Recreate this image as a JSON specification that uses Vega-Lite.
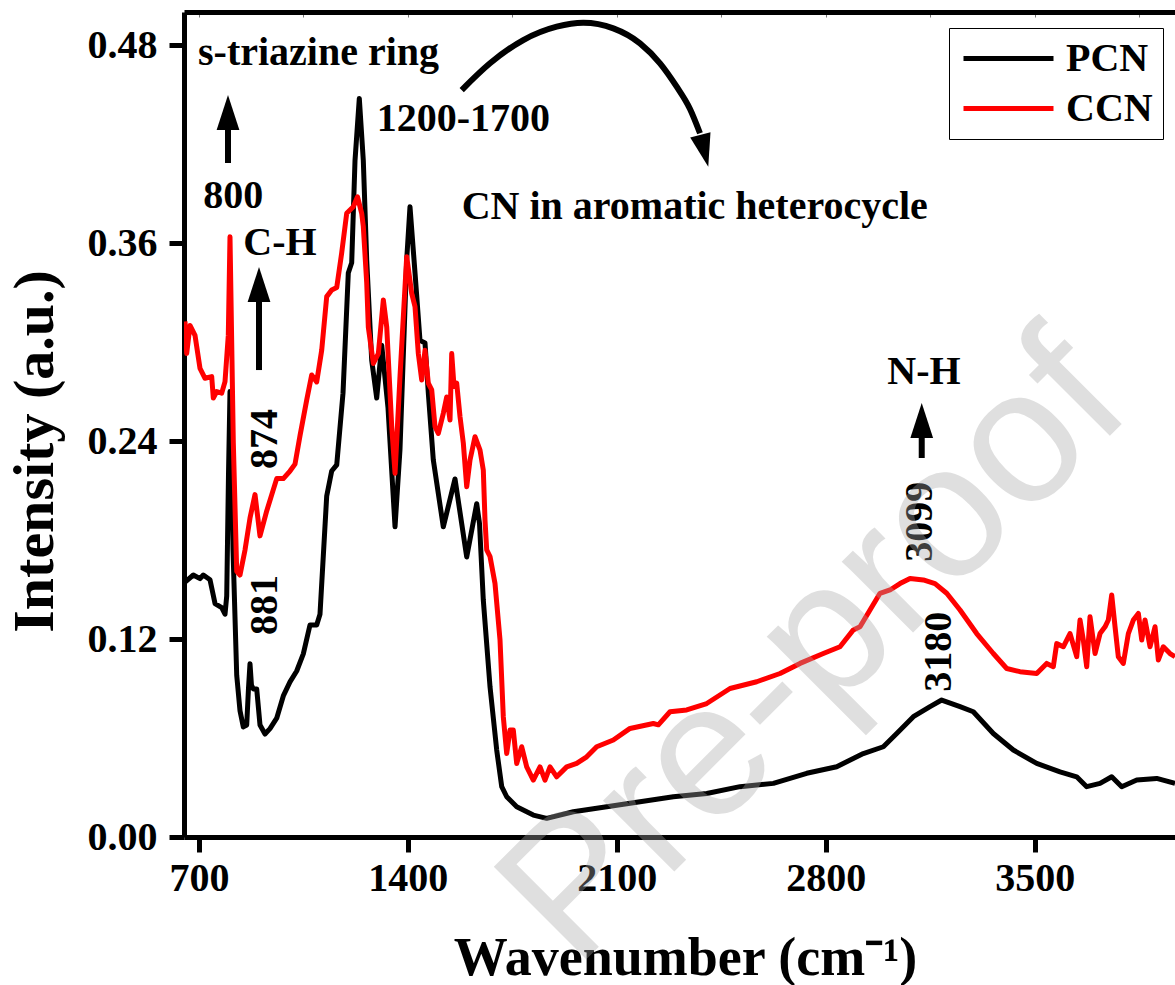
{
  "$schema": "https://vega.github.io/schema/vega-lite/v6.json",
  "width": 991,
  "height": 825,
  "autosize": {"type": "none"},
  "padding": {"left": 184, "top": 12, "right": 0, "bottom": 148},
  "background": "white",
  "config": {
    "view": {"stroke": null},
    "axis": {"grid": false, "labelFont": "Liberation Serif", "labelFontWeight": "bold", "labelColor": "black", "titleFont": "Liberation Serif", "titleFontWeight": "bold", "titleColor": "black", "domainColor": "black", "tickColor": "black"},
    "legend": {"labelFont": "Liberation Serif", "labelFontWeight": "bold"}
  },
  "datasets": {
    "spectra": [
      {"sample": "PCN", "wavenumber": 653.4, "intensity": 0.1545},
      {"sample": "PCN", "wavenumber": 681.2, "intensity": 0.1588},
      {"sample": "PCN", "wavenumber": 703.6, "intensity": 0.1566},
      {"sample": "PCN", "wavenumber": 714.7, "intensity": 0.1588},
      {"sample": "PCN", "wavenumber": 737.1, "intensity": 0.1559},
      {"sample": "PCN", "wavenumber": 747.2, "intensity": 0.1473},
      {"sample": "PCN", "wavenumber": 753.9, "intensity": 0.1415},
      {"sample": "PCN", "wavenumber": 776.3, "intensity": 0.139},
      {"sample": "PCN", "wavenumber": 787.4, "intensity": 0.135},
      {"sample": "PCN", "wavenumber": 793.1, "intensity": 0.146},
      {"sample": "PCN", "wavenumber": 799.1, "intensity": 0.22},
      {"sample": "PCN", "wavenumber": 804.1, "intensity": 0.27},
      {"sample": "PCN", "wavenumber": 809.0, "intensity": 0.235},
      {"sample": "PCN", "wavenumber": 814.2, "intensity": 0.174},
      {"sample": "PCN", "wavenumber": 826.6, "intensity": 0.098},
      {"sample": "PCN", "wavenumber": 837.6, "intensity": 0.0765},
      {"sample": "PCN", "wavenumber": 848.7, "intensity": 0.0667},
      {"sample": "PCN", "wavenumber": 860.1, "intensity": 0.0679},
      {"sample": "PCN", "wavenumber": 866.0, "intensity": 0.09},
      {"sample": "PCN", "wavenumber": 871.1, "intensity": 0.105},
      {"sample": "PCN", "wavenumber": 876.0, "intensity": 0.092},
      {"sample": "PCN", "wavenumber": 882.2, "intensity": 0.0897},
      {"sample": "PCN", "wavenumber": 893.6, "intensity": 0.0897},
      {"sample": "PCN", "wavenumber": 904.6, "intensity": 0.0679},
      {"sample": "PCN", "wavenumber": 921.4, "intensity": 0.0624},
      {"sample": "PCN", "wavenumber": 938.1, "intensity": 0.0657},
      {"sample": "PCN", "wavenumber": 960.6, "intensity": 0.072},
      {"sample": "PCN", "wavenumber": 982.7, "intensity": 0.0855},
      {"sample": "PCN", "wavenumber": 1005.1, "intensity": 0.094},
      {"sample": "PCN", "wavenumber": 1027.6, "intensity": 0.1006},
      {"sample": "PCN", "wavenumber": 1049.7, "intensity": 0.111},
      {"sample": "PCN", "wavenumber": 1072.1, "intensity": 0.1285},
      {"sample": "PCN", "wavenumber": 1094.6, "intensity": 0.1285},
      {"sample": "PCN", "wavenumber": 1105.6, "intensity": 0.135},
      {"sample": "PCN", "wavenumber": 1128.1, "intensity": 0.2067},
      {"sample": "PCN", "wavenumber": 1144.8, "intensity": 0.2218},
      {"sample": "PCN", "wavenumber": 1161.6, "intensity": 0.2255},
      {"sample": "PCN", "wavenumber": 1182.7, "intensity": 0.269},
      {"sample": "PCN", "wavenumber": 1200.4, "intensity": 0.3418},
      {"sample": "PCN", "wavenumber": 1211.8, "intensity": 0.348},
      {"sample": "PCN", "wavenumber": 1222.9, "intensity": 0.41},
      {"sample": "PCN", "wavenumber": 1237.3, "intensity": 0.4476},
      {"sample": "PCN", "wavenumber": 1250.7, "intensity": 0.41},
      {"sample": "PCN", "wavenumber": 1262.1, "intensity": 0.3497},
      {"sample": "PCN", "wavenumber": 1278.8, "intensity": 0.289},
      {"sample": "PCN", "wavenumber": 1295.6, "intensity": 0.266},
      {"sample": "PCN", "wavenumber": 1312.4, "intensity": 0.298},
      {"sample": "PCN", "wavenumber": 1333.5, "intensity": 0.26},
      {"sample": "PCN", "wavenumber": 1357.0, "intensity": 0.188},
      {"sample": "PCN", "wavenumber": 1373.6, "intensity": 0.235},
      {"sample": "PCN", "wavenumber": 1396.1, "intensity": 0.35},
      {"sample": "PCN", "wavenumber": 1407.1, "intensity": 0.382},
      {"sample": "PCN", "wavenumber": 1423.9, "intensity": 0.342},
      {"sample": "PCN", "wavenumber": 1440.6, "intensity": 0.301},
      {"sample": "PCN", "wavenumber": 1457.4, "intensity": 0.2994},
      {"sample": "PCN", "wavenumber": 1468.5, "intensity": 0.269},
      {"sample": "PCN", "wavenumber": 1485.2, "intensity": 0.2285},
      {"sample": "PCN", "wavenumber": 1518.7, "intensity": 0.188},
      {"sample": "PCN", "wavenumber": 1557.9, "intensity": 0.217},
      {"sample": "PCN", "wavenumber": 1597.1, "intensity": 0.1697},
      {"sample": "PCN", "wavenumber": 1630.6, "intensity": 0.202},
      {"sample": "PCN", "wavenumber": 1640.0, "intensity": 0.19},
      {"sample": "PCN", "wavenumber": 1652.7, "intensity": 0.1436},
      {"sample": "PCN", "wavenumber": 1675.2, "intensity": 0.091},
      {"sample": "PCN", "wavenumber": 1697.6, "intensity": 0.0527},
      {"sample": "PCN", "wavenumber": 1714.4, "intensity": 0.0305},
      {"sample": "PCN", "wavenumber": 1731.1, "intensity": 0.0244},
      {"sample": "PCN", "wavenumber": 1764.6, "intensity": 0.0183},
      {"sample": "PCN", "wavenumber": 1820.2, "intensity": 0.0133},
      {"sample": "PCN", "wavenumber": 1865.1, "intensity": 0.0113},
      {"sample": "PCN", "wavenumber": 1954.3, "intensity": 0.0153},
      {"sample": "PCN", "wavenumber": 2066.2, "intensity": 0.0183},
      {"sample": "PCN", "wavenumber": 2177.7, "intensity": 0.0214},
      {"sample": "PCN", "wavenumber": 2289.3, "intensity": 0.0244},
      {"sample": "PCN", "wavenumber": 2401.2, "intensity": 0.0264},
      {"sample": "PCN", "wavenumber": 2512.7, "intensity": 0.0305},
      {"sample": "PCN", "wavenumber": 2624.4, "intensity": 0.0325},
      {"sample": "PCN", "wavenumber": 2736.2, "intensity": 0.0386},
      {"sample": "PCN", "wavenumber": 2836.7, "intensity": 0.0426},
      {"sample": "PCN", "wavenumber": 2870.2, "intensity": 0.0456},
      {"sample": "PCN", "wavenumber": 2925.8, "intensity": 0.0506},
      {"sample": "PCN", "wavenumber": 2992.9, "intensity": 0.0547},
      {"sample": "PCN", "wavenumber": 3037.7, "intensity": 0.0627},
      {"sample": "PCN", "wavenumber": 3093.4, "intensity": 0.0729},
      {"sample": "PCN", "wavenumber": 3149.3, "intensity": 0.079},
      {"sample": "PCN", "wavenumber": 3188.4, "intensity": 0.083},
      {"sample": "PCN", "wavenumber": 3249.8, "intensity": 0.079},
      {"sample": "PCN", "wavenumber": 3294.3, "intensity": 0.0759},
      {"sample": "PCN", "wavenumber": 3361.3, "intensity": 0.0627},
      {"sample": "PCN", "wavenumber": 3428.4, "intensity": 0.0527},
      {"sample": "PCN", "wavenumber": 3506.7, "intensity": 0.0446},
      {"sample": "PCN", "wavenumber": 3584.8, "intensity": 0.0395},
      {"sample": "PCN", "wavenumber": 3640.7, "intensity": 0.0365},
      {"sample": "PCN", "wavenumber": 3674.2, "intensity": 0.0305},
      {"sample": "PCN", "wavenumber": 3718.8, "intensity": 0.0325},
      {"sample": "PCN", "wavenumber": 3758.0, "intensity": 0.0365},
      {"sample": "PCN", "wavenumber": 3791.5, "intensity": 0.0305},
      {"sample": "PCN", "wavenumber": 3841.8, "intensity": 0.0345},
      {"sample": "PCN", "wavenumber": 3908.8, "intensity": 0.0355},
      {"sample": "PCN", "wavenumber": 3970.0, "intensity": 0.0325},
      {"sample": "CCN", "wavenumber": 653.4, "intensity": 0.3125},
      {"sample": "CCN", "wavenumber": 659.0, "intensity": 0.293},
      {"sample": "CCN", "wavenumber": 670.1, "intensity": 0.31},
      {"sample": "CCN", "wavenumber": 686.9, "intensity": 0.304},
      {"sample": "CCN", "wavenumber": 703.6, "intensity": 0.284},
      {"sample": "CCN", "wavenumber": 720.4, "intensity": 0.278},
      {"sample": "CCN", "wavenumber": 742.8, "intensity": 0.279},
      {"sample": "CCN", "wavenumber": 748.2, "intensity": 0.266},
      {"sample": "CCN", "wavenumber": 759.6, "intensity": 0.27},
      {"sample": "CCN", "wavenumber": 776.3, "intensity": 0.269},
      {"sample": "CCN", "wavenumber": 787.4, "intensity": 0.276},
      {"sample": "CCN", "wavenumber": 798.4, "intensity": 0.304},
      {"sample": "CCN", "wavenumber": 804.1, "intensity": 0.3638},
      {"sample": "CCN", "wavenumber": 815.2, "intensity": 0.239},
      {"sample": "CCN", "wavenumber": 826.6, "intensity": 0.161},
      {"sample": "CCN", "wavenumber": 837.6, "intensity": 0.1588},
      {"sample": "CCN", "wavenumber": 854.4, "intensity": 0.174},
      {"sample": "CCN", "wavenumber": 871.1, "intensity": 0.1933},
      {"sample": "CCN", "wavenumber": 887.9, "intensity": 0.2075},
      {"sample": "CCN", "wavenumber": 904.6, "intensity": 0.1825},
      {"sample": "CCN", "wavenumber": 927.1, "intensity": 0.1976},
      {"sample": "CCN", "wavenumber": 960.6, "intensity": 0.2172},
      {"sample": "CCN", "wavenumber": 982.7, "intensity": 0.2172},
      {"sample": "CCN", "wavenumber": 1005.1, "intensity": 0.2218},
      {"sample": "CCN", "wavenumber": 1021.9, "intensity": 0.226},
      {"sample": "CCN", "wavenumber": 1038.6, "intensity": 0.2432},
      {"sample": "CCN", "wavenumber": 1061.1, "intensity": 0.2648},
      {"sample": "CCN", "wavenumber": 1077.8, "intensity": 0.28},
      {"sample": "CCN", "wavenumber": 1094.6, "intensity": 0.2758},
      {"sample": "CCN", "wavenumber": 1111.3, "intensity": 0.295},
      {"sample": "CCN", "wavenumber": 1128.1, "intensity": 0.3275},
      {"sample": "CCN", "wavenumber": 1144.8, "intensity": 0.3315},
      {"sample": "CCN", "wavenumber": 1161.6, "intensity": 0.333},
      {"sample": "CCN", "wavenumber": 1178.3, "intensity": 0.354},
      {"sample": "CCN", "wavenumber": 1195.1, "intensity": 0.378},
      {"sample": "CCN", "wavenumber": 1217.2, "intensity": 0.382},
      {"sample": "CCN", "wavenumber": 1231.3, "intensity": 0.388},
      {"sample": "CCN", "wavenumber": 1245.3, "intensity": 0.378},
      {"sample": "CCN", "wavenumber": 1250.7, "intensity": 0.37},
      {"sample": "CCN", "wavenumber": 1262.1, "intensity": 0.336},
      {"sample": "CCN", "wavenumber": 1267.5, "intensity": 0.309},
      {"sample": "CCN", "wavenumber": 1284.3, "intensity": 0.287},
      {"sample": "CCN", "wavenumber": 1301.1, "intensity": 0.293},
      {"sample": "CCN", "wavenumber": 1317.8, "intensity": 0.3255},
      {"sample": "CCN", "wavenumber": 1329.2, "intensity": 0.309},
      {"sample": "CCN", "wavenumber": 1345.9, "intensity": 0.2487},
      {"sample": "CCN", "wavenumber": 1357.0, "intensity": 0.2204},
      {"sample": "CCN", "wavenumber": 1373.6, "intensity": 0.279},
      {"sample": "CCN", "wavenumber": 1396.1, "intensity": 0.3517},
      {"sample": "CCN", "wavenumber": 1412.8, "intensity": 0.3295},
      {"sample": "CCN", "wavenumber": 1423.9, "intensity": 0.3214},
      {"sample": "CCN", "wavenumber": 1435.0, "intensity": 0.293},
      {"sample": "CCN", "wavenumber": 1446.4, "intensity": 0.277},
      {"sample": "CCN", "wavenumber": 1457.4, "intensity": 0.295},
      {"sample": "CCN", "wavenumber": 1468.5, "intensity": 0.275},
      {"sample": "CCN", "wavenumber": 1479.9, "intensity": 0.271},
      {"sample": "CCN", "wavenumber": 1490.9, "intensity": 0.2487},
      {"sample": "CCN", "wavenumber": 1502.0, "intensity": 0.2446},
      {"sample": "CCN", "wavenumber": 1518.7, "intensity": 0.2568},
      {"sample": "CCN", "wavenumber": 1530.1, "intensity": 0.2667},
      {"sample": "CCN", "wavenumber": 1541.2, "intensity": 0.2527},
      {"sample": "CCN", "wavenumber": 1546.9, "intensity": 0.293},
      {"sample": "CCN", "wavenumber": 1554.6, "intensity": 0.273},
      {"sample": "CCN", "wavenumber": 1563.6, "intensity": 0.275},
      {"sample": "CCN", "wavenumber": 1574.7, "intensity": 0.2547},
      {"sample": "CCN", "wavenumber": 1585.8, "intensity": 0.2386},
      {"sample": "CCN", "wavenumber": 1597.1, "intensity": 0.2123},
      {"sample": "CCN", "wavenumber": 1608.2, "intensity": 0.2285},
      {"sample": "CCN", "wavenumber": 1624.9, "intensity": 0.2426},
      {"sample": "CCN", "wavenumber": 1641.7, "intensity": 0.2345},
      {"sample": "CCN", "wavenumber": 1652.7, "intensity": 0.2224},
      {"sample": "CCN", "wavenumber": 1658.4, "intensity": 0.192},
      {"sample": "CCN", "wavenumber": 1664.1, "intensity": 0.174},
      {"sample": "CCN", "wavenumber": 1675.2, "intensity": 0.17},
      {"sample": "CCN", "wavenumber": 1691.9, "intensity": 0.1536},
      {"sample": "CCN", "wavenumber": 1708.7, "intensity": 0.1194},
      {"sample": "CCN", "wavenumber": 1719.7, "intensity": 0.0729},
      {"sample": "CCN", "wavenumber": 1731.1, "intensity": 0.0506},
      {"sample": "CCN", "wavenumber": 1742.2, "intensity": 0.0648},
      {"sample": "CCN", "wavenumber": 1753.2, "intensity": 0.0648},
      {"sample": "CCN", "wavenumber": 1764.6, "intensity": 0.0446},
      {"sample": "CCN", "wavenumber": 1781.4, "intensity": 0.0547},
      {"sample": "CCN", "wavenumber": 1798.1, "intensity": 0.0425},
      {"sample": "CCN", "wavenumber": 1820.2, "intensity": 0.0345},
      {"sample": "CCN", "wavenumber": 1842.7, "intensity": 0.0425},
      {"sample": "CCN", "wavenumber": 1859.4, "intensity": 0.0345},
      {"sample": "CCN", "wavenumber": 1876.2, "intensity": 0.0425},
      {"sample": "CCN", "wavenumber": 1898.6, "intensity": 0.0365},
      {"sample": "CCN", "wavenumber": 1932.1, "intensity": 0.0425},
      {"sample": "CCN", "wavenumber": 1965.6, "intensity": 0.0446},
      {"sample": "CCN", "wavenumber": 1999.1, "intensity": 0.0486},
      {"sample": "CCN", "wavenumber": 2032.6, "intensity": 0.0547},
      {"sample": "CCN", "wavenumber": 2088.3, "intensity": 0.0588},
      {"sample": "CCN", "wavenumber": 2144.2, "intensity": 0.0658},
      {"sample": "CCN", "wavenumber": 2222.3, "intensity": 0.0688},
      {"sample": "CCN", "wavenumber": 2239.1, "intensity": 0.068},
      {"sample": "CCN", "wavenumber": 2278.2, "intensity": 0.0759},
      {"sample": "CCN", "wavenumber": 2334.2, "intensity": 0.077},
      {"sample": "CCN", "wavenumber": 2401.2, "intensity": 0.0809},
      {"sample": "CCN", "wavenumber": 2479.2, "intensity": 0.09},
      {"sample": "CCN", "wavenumber": 2568.7, "intensity": 0.0941},
      {"sample": "CCN", "wavenumber": 2646.7, "intensity": 0.0991},
      {"sample": "CCN", "wavenumber": 2713.7, "intensity": 0.1052},
      {"sample": "CCN", "wavenumber": 2791.8, "intensity": 0.1112},
      {"sample": "CCN", "wavenumber": 2847.7, "intensity": 0.1153},
      {"sample": "CCN", "wavenumber": 2892.3, "intensity": 0.1255},
      {"sample": "CCN", "wavenumber": 2914.7, "intensity": 0.1274},
      {"sample": "CCN", "wavenumber": 2948.2, "intensity": 0.1376},
      {"sample": "CCN", "wavenumber": 2981.7, "intensity": 0.1477},
      {"sample": "CCN", "wavenumber": 3015.2, "intensity": 0.1497},
      {"sample": "CCN", "wavenumber": 3048.7, "intensity": 0.1536},
      {"sample": "CCN", "wavenumber": 3082.3, "intensity": 0.1567},
      {"sample": "CCN", "wavenumber": 3126.8, "intensity": 0.1558},
      {"sample": "CCN", "wavenumber": 3166.0, "intensity": 0.1536},
      {"sample": "CCN", "wavenumber": 3205.2, "intensity": 0.1477},
      {"sample": "CCN", "wavenumber": 3249.8, "intensity": 0.1376},
      {"sample": "CCN", "wavenumber": 3305.6, "intensity": 0.1233},
      {"sample": "CCN", "wavenumber": 3361.3, "intensity": 0.1112},
      {"sample": "CCN", "wavenumber": 3406.2, "intensity": 0.1021},
      {"sample": "CCN", "wavenumber": 3450.8, "intensity": 0.1002},
      {"sample": "CCN", "wavenumber": 3506.7, "intensity": 0.0991},
      {"sample": "CCN", "wavenumber": 3540.2, "intensity": 0.1052},
      {"sample": "CCN", "wavenumber": 3562.3, "intensity": 0.1032},
      {"sample": "CCN", "wavenumber": 3573.7, "intensity": 0.1172},
      {"sample": "CCN", "wavenumber": 3595.8, "intensity": 0.1153},
      {"sample": "CCN", "wavenumber": 3618.2, "intensity": 0.1233},
      {"sample": "CCN", "wavenumber": 3640.7, "intensity": 0.1093},
      {"sample": "CCN", "wavenumber": 3651.8, "intensity": 0.1315},
      {"sample": "CCN", "wavenumber": 3662.8, "intensity": 0.1194},
      {"sample": "CCN", "wavenumber": 3674.2, "intensity": 0.1032},
      {"sample": "CCN", "wavenumber": 3685.3, "intensity": 0.1335},
      {"sample": "CCN", "wavenumber": 3702.1, "intensity": 0.1112},
      {"sample": "CCN", "wavenumber": 3718.8, "intensity": 0.1233},
      {"sample": "CCN", "wavenumber": 3735.6, "intensity": 0.1274},
      {"sample": "CCN", "wavenumber": 3746.6, "intensity": 0.1315},
      {"sample": "CCN", "wavenumber": 3758.0, "intensity": 0.1467},
      {"sample": "CCN", "wavenumber": 3769.1, "intensity": 0.1274},
      {"sample": "CCN", "wavenumber": 3780.1, "intensity": 0.1093},
      {"sample": "CCN", "wavenumber": 3796.9, "intensity": 0.1052},
      {"sample": "CCN", "wavenumber": 3813.7, "intensity": 0.1233},
      {"sample": "CCN", "wavenumber": 3830.4, "intensity": 0.1315},
      {"sample": "CCN", "wavenumber": 3847.2, "intensity": 0.1355},
      {"sample": "CCN", "wavenumber": 3858.6, "intensity": 0.1194},
      {"sample": "CCN", "wavenumber": 3869.6, "intensity": 0.1315},
      {"sample": "CCN", "wavenumber": 3886.4, "intensity": 0.1153},
      {"sample": "CCN", "wavenumber": 3903.1, "intensity": 0.1274},
      {"sample": "CCN", "wavenumber": 3914.2, "intensity": 0.1073},
      {"sample": "CCN", "wavenumber": 3930.9, "intensity": 0.1153},
      {"sample": "CCN", "wavenumber": 3953.3, "intensity": 0.1112},
      {"sample": "CCN", "wavenumber": 3970.0, "intensity": 0.1093}
    ],
    "labelsLeft": [
      {"wavenumber": 696.9, "intensity": 0.4679, "label": "s-triazine ring"},
      {"wavenumber": 848.7, "intensity": 0.3527, "label": "C-H"},
      {"wavenumber": 1295.6, "intensity": 0.428, "label": "1200-1700"},
      {"wavenumber": 1580.3, "intensity": 0.3743, "label": "CN in aromatic heterocycle"}
    ],
    "labelsCenter": [
      {"wavenumber": 815.2, "intensity": 0.381, "label": "800"},
      {"wavenumber": 3129.0, "intensity": 0.2745, "label": "N-H"}
    ],
    "labelsRot": [
      {"wavenumber": 921.4, "intensity": 0.2412, "label": "874"},
      {"wavenumber": 921.4, "intensity": 0.1406, "label": "881"},
      {"wavenumber": 3115.7, "intensity": 0.1911, "label": "3099"},
      {"wavenumber": 3180.1, "intensity": 0.1123, "label": "3180"}
    ],
    "shafts": [
      {"wavenumber": 797.4, "from": 0.4085, "to": 0.4315},
      {"wavenumber": 901.3, "from": 0.283, "to": 0.3285},
      {"wavenumber": 3121.5, "from": 0.2297, "to": 0.2467}
    ],
    "heads": [
      {"wavenumber": 797.4, "intensity": 0.4391},
      {"wavenumber": 901.3, "intensity": 0.3348},
      {"wavenumber": 3121.5, "intensity": 0.2524}
    ],
    "arc": [
      {"wavenumber": 1580.4, "intensity": 0.4527},
      {"wavenumber": 1675.2, "intensity": 0.4689},
      {"wavenumber": 1786.7, "intensity": 0.483},
      {"wavenumber": 1898.6, "intensity": 0.4911},
      {"wavenumber": 1987.7, "intensity": 0.4935},
      {"wavenumber": 2088.3, "intensity": 0.4901},
      {"wavenumber": 2177.7, "intensity": 0.481},
      {"wavenumber": 2244.7, "intensity": 0.4689},
      {"wavenumber": 2300.6, "intensity": 0.4547},
      {"wavenumber": 2345.2, "intensity": 0.4412},
      {"wavenumber": 2378.7, "intensity": 0.4265}
    ],
    "arcHead": [
      {"wavenumber": 2393.1, "intensity": 0.4159}
    ],
    "watermark": [
      {"wavenumber": 2764, "intensity": 0.1133, "label": "Pre-proof"}
    ]
  },
  "resolve": {"axis": {"x": "independent", "y": "independent"}},
  "layer": [
    {
      "data": {"name": "spectra"},
      "transform": [{"filter": "datum.sample === 'PCN'"}],
      "mark": {"type": "line", "strokeWidth": 5, "clip": true, "strokeJoin": "round"},
      "encoding": {
        "x": {"field": "wavenumber", "type": "quantitative", "scale": {"domain": [650, 3970], "nice": false, "zero": false},
          "axis": {"orient": "bottom", "values": [700, 1400, 2100, 2800, 3500], "format": "d", "labelFontSize": 40, "labelPadding": 6, "tickSize": 15, "tickWidth": 5, "domainWidth": 5, "title": "Wavenumber (cm⁻¹)", "titleFontSize": 54, "titleX": 501, "titleY": 137, "titleBaseline": "alphabetic", "titleAnchor": "middle"}},
        "y": {"field": "intensity", "type": "quantitative", "scale": {"domain": [0, 0.5], "nice": false},
          "axis": {"values": [0, 0.12, 0.24, 0.36, 0.48], "format": ".2f", "labelFontSize": 40, "labelPadding": 12, "tickSize": 15, "tickWidth": 5, "domainWidth": 5, "title": "Intensity (a.u.)", "titleFontSize": 58, "titleAngle": -90, "titleX": -132, "titleY": 439, "titleBaseline": "alphabetic", "titleAlign": "center"}},
        "color": {"field": "sample", "type": "nominal", "scale": {"domain": ["PCN", "CCN"], "range": ["#000000", "#ff0000"]},
          "legend": {"title": null, "orient": "none", "legendX": 765, "legendY": 16, "padding": 10, "strokeColor": "#000000", "fillColor": "white", "symbolType": "M-2.5,0L2.5,0", "symbolSize": 1296, "symbolStrokeWidth": 5, "symbolOffset": 29, "labelFontSize": 40, "labelColor": "black", "labelOffset": 37, "rowPadding": 9, "labelLimit": 300}}
      }
    },
    {
      "data": {"name": "spectra"},
      "transform": [{"filter": "datum.sample === 'CCN'"}],
      "mark": {"type": "line", "strokeWidth": 5, "clip": true, "strokeJoin": "round"},
      "encoding": {
        "x": {"field": "wavenumber", "type": "quantitative",
          "axis": {"orient": "top", "values": [700, 1050, 1400, 1750, 2100, 2450, 2800, 3150, 3500, 3850], "labels": false, "tickSize": -5, "tickWidth": 1, "tickColor": "#777777", "domainWidth": 5, "title": null}},
        "y": {"field": "intensity", "type": "quantitative", "axis": null},
        "color": {"field": "sample", "type": "nominal"}
      }
    },
    {
      "data": {"name": "arc"},
      "mark": {"type": "line", "color": "black", "strokeWidth": 6, "interpolate": "monotone"},
      "encoding": {
        "x": {"field": "wavenumber", "type": "quantitative", "axis": null},
        "y": {"field": "intensity", "type": "quantitative", "axis": null}
      }
    },
    {
      "data": {"name": "arcHead"},
      "mark": {"type": "point", "shape": "M0,1L0.64,-1L-0.64,-1Z", "size": 1070, "filled": true, "color": "black", "opacity": 1, "angle": -14},
      "encoding": {
        "x": {"field": "wavenumber", "type": "quantitative", "axis": null},
        "y": {"field": "intensity", "type": "quantitative", "axis": null}
      }
    },
    {
      "data": {"name": "shafts"},
      "mark": {"type": "rule", "color": "black", "strokeWidth": 6},
      "encoding": {
        "x": {"field": "wavenumber", "type": "quantitative", "axis": null},
        "y": {"field": "from", "type": "quantitative", "axis": null},
        "y2": {"field": "to"}
      }
    },
    {
      "data": {"name": "heads"},
      "mark": {"type": "point", "shape": "M0,-1L0.65,1L-0.65,1Z", "size": 1225, "filled": true, "color": "black", "opacity": 1},
      "encoding": {
        "x": {"field": "wavenumber", "type": "quantitative", "axis": null},
        "y": {"field": "intensity", "type": "quantitative", "axis": null}
      }
    },
    {
      "data": {"name": "labelsLeft"},
      "mark": {"type": "text", "align": "left", "baseline": "alphabetic", "font": "Liberation Serif", "fontWeight": "bold", "fontSize": 40, "color": "black"},
      "encoding": {
        "x": {"field": "wavenumber", "type": "quantitative", "axis": null},
        "y": {"field": "intensity", "type": "quantitative", "axis": null},
        "text": {"field": "label"}
      }
    },
    {
      "data": {"name": "labelsCenter"},
      "mark": {"type": "text", "align": "center", "baseline": "alphabetic", "font": "Liberation Serif", "fontWeight": "bold", "fontSize": 40, "color": "black"},
      "encoding": {
        "x": {"field": "wavenumber", "type": "quantitative", "axis": null},
        "y": {"field": "intensity", "type": "quantitative", "axis": null},
        "text": {"field": "label"}
      }
    },
    {
      "data": {"name": "labelsRot"},
      "mark": {"type": "text", "align": "center", "baseline": "middle", "angle": 270, "font": "Liberation Serif", "fontWeight": "bold", "fontSize": 40, "color": "black"},
      "encoding": {
        "x": {"field": "wavenumber", "type": "quantitative", "axis": null},
        "y": {"field": "intensity", "type": "quantitative", "axis": null},
        "text": {"field": "label"}
      }
    },
    {
      "data": {"name": "watermark"},
      "mark": {"type": "text", "align": "center", "baseline": "middle", "angle": -45, "font": "Liberation Sans", "fontSize": 190, "color": "#a8a8a8", "opacity": 0.36},
      "encoding": {
        "x": {"field": "wavenumber", "type": "quantitative", "axis": null},
        "y": {"field": "intensity", "type": "quantitative", "axis": null},
        "text": {"field": "label"}
      }
    }
  ]
}
